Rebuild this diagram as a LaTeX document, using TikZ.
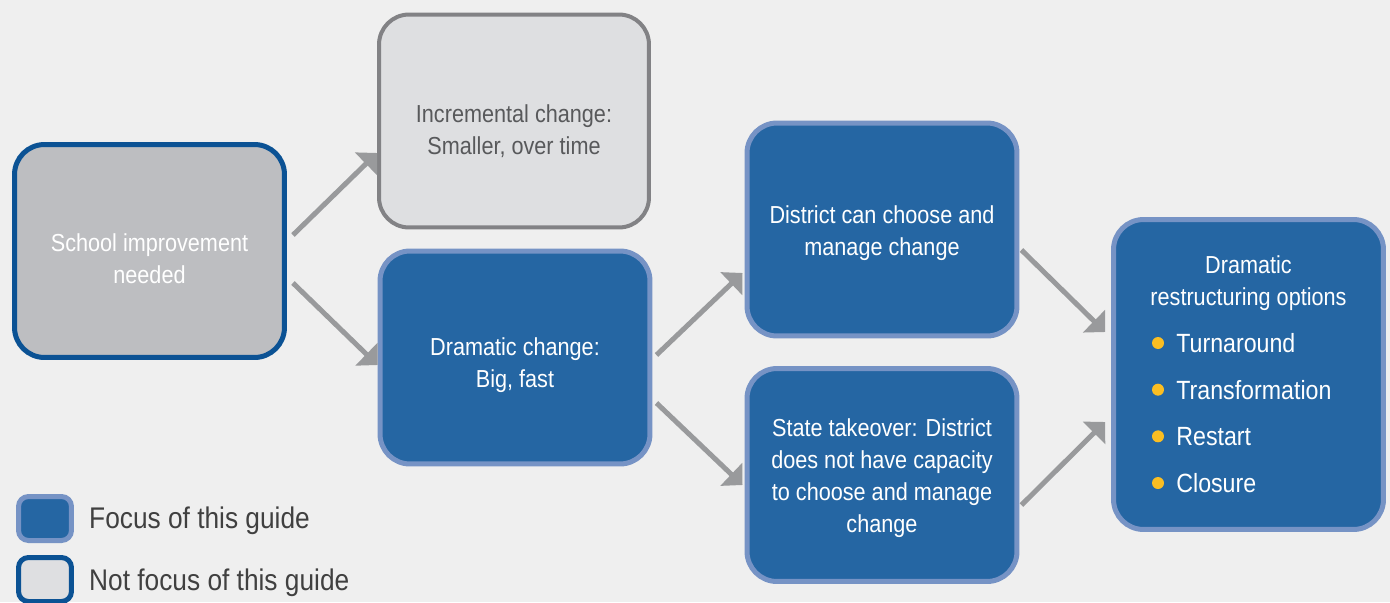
\documentclass[tikz,border=0pt]{standalone}
\usepackage{fontspec}
\setmainfont{Liberation Sans}[FakeStretch=0.88]
\usetikzlibrary{arrows.meta}
\definecolor{sfondo}{HTML}{EFEFEF}
\definecolor{blu}{HTML}{2566A3}
\definecolor{blulight}{HTML}{7693C5}
\definecolor{bludark}{HTML}{0B5294}
\definecolor{grigio}{HTML}{BDBEC1}
\definecolor{grigiochiaro}{HTML}{DEDFE1}
\definecolor{grigiobordo}{HTML}{828285}
\definecolor{grigiotesto}{HTML}{58595B}
\definecolor{freccia}{HTML}{999A9C}
\definecolor{giallo}{HTML}{FBBE22}
\definecolor{testo}{HTML}{404040}
\begin{document}
\begin{tikzpicture}[x=0.02cm,y=-0.02cm,
    box/.style={rounded corners=0.6cm, line width=0.1cm, minimum width=5.4cm, minimum height=4.26cm},
    focusbox/.style={box, draw=blulight, fill=blu},
    otherbox/.style={box, draw=grigiobordo, line width=0.08cm, fill=grigiochiaro},
    startbox/.style={box, draw=bludark, fill=grigio},
    boxtext/.style={text=white, align=center, font=\fontsize{14}{18.2}\selectfont},
    legendbox/.style={rounded corners=0.2cm, line width=0.1cm, minimum width=1.06cm, minimum height=0.88cm},
    arrow/.style={draw=freccia, line width=0.1cm, -{Triangle[width=0.62cm, length=0.31cm]}},
    bullet/.style={circle, fill=giallo, inner sep=0pt, minimum size=0.24cm},
    legendtext/.style={anchor=west, text=testo, font=\fontsize{17}{20}\selectfont}]
    \fill[sfondo] (0,0) rectangle (1390,602);
    \useasboundingbox (0,0) rectangle (1390,602);

    \node[startbox] (1) at (149.5,251) {};
    \node[otherbox] (2) at (514,121) {};
    \node[focusbox] (3) at (515,357.5) {};
    \node[focusbox] (4) at (882,229.5) {};
    \node[focusbox] (5) at (882,475) {};
    \node[focusbox, minimum height=6.2cm] (6) at (1248.5,374.5) {};

    \node[boxtext] (t1) at (149.5,259) {School improvement\\needed};
    \node[boxtext, text=grigiotesto] (t2) at (514,131) {Incremental change:\\Smaller, over time};
    \node[boxtext] (t3) at (515,365) {Dramatic change:\\Big, fast};
    \node[boxtext] (t4) at (882,233.5) {District can choose and\\manage change};
    \node[boxtext] (t5) at (882,478) {State takeover: District\\does not have capacity\\to choose and manage\\change};
    \node[boxtext] (t6) at (1248.5,283) {Dramatic\\restructuring options};
    \foreach \opt [count=\i] in {Turnaround, Transformation, Restart, Closure} {
        \node[bullet] (b\i) at (1158,343+46.67*\i-46.67) {};
        \node[anchor=west, text=white, inner sep=0pt, font=\fontsize{15}{18}\selectfont] (o\i) at (1176,343+46.67*\i-46.67) {\opt};
    }

    %Frecce

    \draw[arrow] ([shift={(6,-16)}]1.east) -- ([shift={(0,32)}]2.west);
    \draw[arrow] ([shift={(6,32)}]1.east) -- ([shift={(0,7.5)}]3.west);
    \draw[arrow] ([shift={(4,-2.5)}]3.east) -- ([shift={(-2,43.5)}]4.west);
    \draw[arrow] ([shift={(4,45.5)}]3.east) -- ([shift={(-2,10)}]5.west);
    \draw[arrow] ([shift={(2,20.5)}]4.east) -- ([shift={(-6,-42.5)}]6.west);
    \draw[arrow] ([shift={(2,30)}]5.east) -- ([shift={(-6,47.5)}]6.west);

    %Legenda

    \node[legendbox, draw=blulight, fill=blu] (l1) at (45,518.5) {};
    \node[legendbox, draw=bludark, fill=grigiochiaro] (l2) at (45,579.5) {};
    \node[legendtext] (lt1) at (83,521) {Focus of this guide};
    \node[legendtext] (lt2) at (83,583) {Not focus of this guide};
\end{tikzpicture}
\end{document}
